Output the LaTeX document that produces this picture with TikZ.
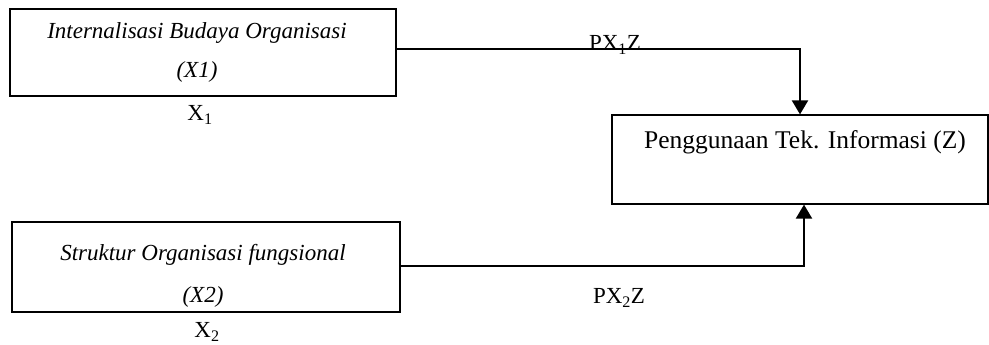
\documentclass[tikz,border=0pt]{standalone}
\usepackage{fontspec}
\setmainfont{Liberation Serif}
\usetikzlibrary{arrows.meta}
\begin{document}
\begin{tikzpicture}[x=1pt,y=-1pt,
  box/.style={draw,line width=1.2pt,inner sep=0pt},
  txt/.style={inner sep=0pt,font=\fontsize{23}{27}\selectfont},
  ztxt/.style={inner sep=0pt,font=\fontsize{25.5}{30}\selectfont},
  itxt/.style={inner sep=0pt,font=\fontsize{23}{27}\selectfont\itshape},
  conn/.style={line width=2pt},
  arr/.style={conn,-{Triangle[width=16pt,length=14pt]}}]
\useasboundingbox (0,0) rectangle (989,345);
\node[box,minimum width=386pt,minimum height=87pt] (b1) at (203,52.5) {};
\node[box,minimum width=388pt,minimum height=90pt] (b2) at (206,267) {};
\node[box,minimum width=376pt,minimum height=89pt] (z) at (800,159.5) {};
\node[itxt] (t1a) at (197,33) {Internalisasi Budaya Organisasi};
\node[itxt] (t1b) at (197,72) {(X1)};
\node[itxt] (t2a) at (203,255) {Struktur Organisasi fungsional};
\node[itxt] (t2b) at (203,297) {(X2)};
\node[ztxt] (tz) at (805,142) {Penggunaan Tek. Informasi (Z)};
\node[txt] (l1) at (200,115) {X\textsubscript{1}};
\node[txt] (l2) at (207,332) {X\textsubscript{2}};
\coordinate (c1) at (800,49);
\coordinate (c2) at (804,266);
\draw[arr] (b1.east|-c1) -- (c1) -- (z.north-|c1);
\draw[arr] (b2.east|-c2) -- (c2) -- (z.south-|c2);
\node[txt] (p1) at (615,45) {PX\textsubscript{1}Z};
\node[txt] (p2) at (619,298) {PX\textsubscript{2}Z};
\end{tikzpicture}
\end{document}
